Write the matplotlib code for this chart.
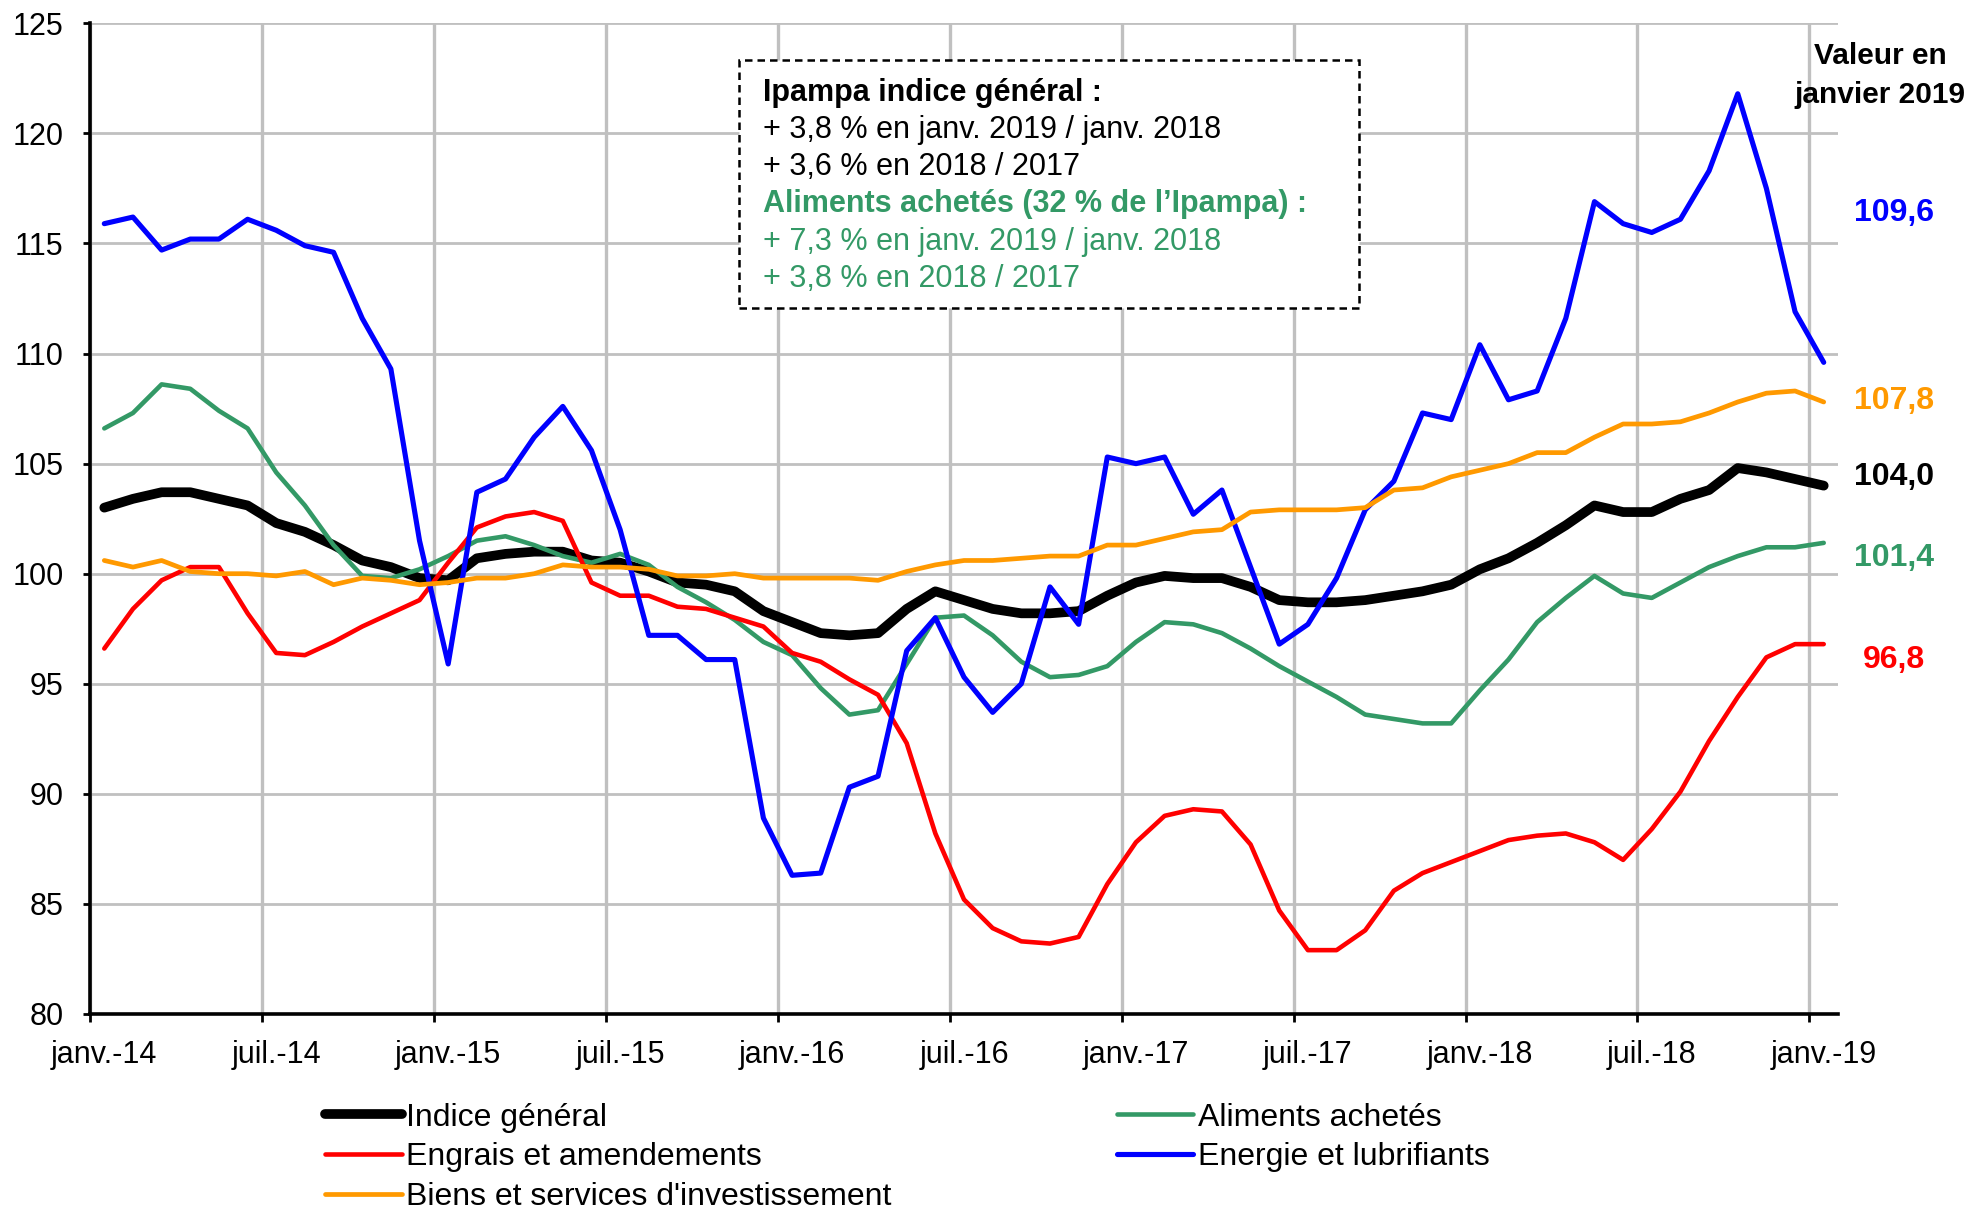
import matplotlib
matplotlib.use("Agg")
import matplotlib.pyplot as plt
from matplotlib.patches import Rectangle

plt.rcParams['font.family'] = ['Liberation Sans', 'DejaVu Sans']

# ---------------- data ----------------
tick_labels = ['janv.-14', 'juil.-14', 'janv.-15', 'juil.-15', 'janv.-16', 'juil.-16',
               'janv.-17', 'juil.-17', 'janv.-18', 'juil.-18', 'janv.-19']

indice_general = [103.0, 103.4, 103.7, 103.7, 103.4, 103.1, 102.3, 101.9, 101.3, 100.6,
                  100.3, 99.8, 99.7, 100.7, 100.9, 101.0, 101.0, 100.6, 100.5, 100.1,
                  99.6, 99.5, 99.2, 98.3, 97.8, 97.3, 97.2, 97.3, 98.4, 99.2,
                  98.8, 98.4, 98.2, 98.2, 98.3, 99.0, 99.6, 99.9, 99.8, 99.8,
                  99.4, 98.8, 98.7, 98.7, 98.8, 99.0, 99.2, 99.5, 100.2, 100.7,
                  101.4, 102.2, 103.1, 102.8, 102.8, 103.4, 103.8, 104.8, 104.6, 104.3,
                  104.0]

aliments = [106.6, 107.3, 108.6, 108.4, 107.4, 106.6, 104.6, 103.1, 101.3, 99.9,
            99.8, 100.2, 100.8, 101.5, 101.7, 101.3, 100.8, 100.5, 100.9, 100.4,
            99.4, 98.7, 97.9, 96.9, 96.3, 94.8, 93.6, 93.8, 95.9, 98.0,
            98.1, 97.2, 96.0, 95.3, 95.4, 95.8, 96.9, 97.8, 97.7, 97.3,
            96.6, 95.8, 95.1, 94.4, 93.6, 93.4, 93.2, 93.2, 94.7, 96.1,
            97.8, 98.9, 99.9, 99.1, 98.9, 99.6, 100.3, 100.8, 101.2, 101.2,
            101.4]

engrais = [96.6, 98.4, 99.7, 100.3, 100.3, 98.2, 96.4, 96.3, 96.9, 97.6,
           98.2, 98.8, 100.5, 102.1, 102.6, 102.8, 102.4, 99.6, 99.0, 99.0,
           98.5, 98.4, 98.0, 97.6, 96.4, 96.0, 95.2, 94.5, 92.3, 88.2,
           85.2, 83.9, 83.3, 83.2, 83.5, 85.9, 87.8, 89.0, 89.3, 89.2,
           87.7, 84.7, 82.9, 82.9, 83.8, 85.6, 86.4, 86.9, 87.4, 87.9,
           88.1, 88.2, 87.8, 87.0, 88.4, 90.1, 92.4, 94.4, 96.2, 96.8,
           96.8]

energie = [115.9, 116.2, 114.7, 115.2, 115.2, 116.1, 115.6, 114.9, 114.6, 111.6,
           109.3, 101.5, 95.9, 103.7, 104.3, 106.2, 107.6, 105.6, 102.0, 97.2,
           97.2, 96.1, 96.1, 88.9, 86.3, 86.4, 90.3, 90.8, 96.5, 98.0,
           95.3, 93.7, 95.0, 99.4, 97.7, 105.3, 105.0, 105.3, 102.7, 103.8,
           100.3, 96.8, 97.7, 99.8, 102.9, 104.2, 107.3, 107.0, 110.4, 107.9,
           108.3, 111.6, 116.9, 115.9, 115.5, 116.1, 118.3, 121.8, 117.5, 111.9,
           109.6]

biens = [100.6, 100.3, 100.6, 100.1, 100.0, 100.0, 99.9, 100.1, 99.5, 99.8,
         99.7, 99.5, 99.6, 99.8, 99.8, 100.0, 100.4, 100.3, 100.3, 100.2,
         99.9, 99.9, 100.0, 99.8, 99.8, 99.8, 99.8, 99.7, 100.1, 100.4,
         100.6, 100.6, 100.7, 100.8, 100.8, 101.3, 101.3, 101.6, 101.9, 102.0,
         102.8, 102.9, 102.9, 102.9, 103.0, 103.8, 103.9, 104.4, 104.7, 105.0,
         105.5, 105.5, 106.2, 106.8, 106.8, 106.9, 107.3, 107.8, 108.2, 108.3,
         107.8]

series_names = ['Indice général', 'Aliments achetés', 'Engrais et amendements',
                'Energie et lubrifiants', "Biens et services d'investissement"]
end_labels = ['104,0', '101,4', '96,8', '109,6', '107,8']

# ---------------- styles ----------------
colors = ['#000000', '#339966', '#FF0000', '#0000FF', '#FF9900']
widths = [7.0, 3.3, 3.3, 3.7, 3.4]
end_label_y = [104.4, 100.7, 96.1, 116.4, 107.85]

fig = plt.figure(figsize=(19.73, 12.09), dpi=100)
ax = fig.add_axes([0.0456, 0.1613, 0.886, 0.8194])

n = len(indice_general)
x = list(range(n))
all_series = [indice_general, aliments, engrais, energie, biens]
handles = []
for vals, c, lw, name in zip(all_series, colors, widths, series_names):
    h, = ax.plot(x, vals, color=c, lw=lw, solid_joinstyle='round',
                 solid_capstyle='round', label=name, zorder=3)
    handles.append(h)

ax.set_xlim(-0.5, n - 0.5)
ax.set_ylim(80, 125)
ax.set_yticks(range(80, 126, 5))

bounds = [i - 0.5 for i in range(0, n, 6)]
centers = list(range(0, n, 6))
ax.set_xticks(bounds)
ax.set_xticklabels([])
ax.set_xticks(centers, minor=True)
ax.set_xticklabels(tick_labels, minor=True)

ax.tick_params(axis='x', which='major', length=6, width=2, direction='out', color='black')
ax.tick_params(axis='x', which='minor', length=0, pad=19, labelsize=22)
ax.tick_params(axis='y', length=5, width=2, direction='out', pad=14, labelsize=22)

ax.set_axisbelow(True)
ax.grid(axis='y', color='#C0C0C0', lw=2)
ax.grid(axis='x', which='major', color='#C0C0C0', lw=2.4)
for s in ['top', 'right']:
    ax.spines[s].set_visible(False)
for s in ['left', 'bottom']:
    ax.spines[s].set_linewidth(2.6)
    ax.spines[s].set_color('black')
    ax.spines[s].set_zorder(4)

# annotation box
ax.add_patch(Rectangle((0.3713, 0.7126), 0.7260 - 0.3713, 0.963 - 0.7126,
                       transform=ax.transAxes, facecolor='white', edgecolor='black',
                       lw=1.8, ls=(0, (3, 2)), zorder=5))
box_lines = [
    ('Ipampa indice général :', 'black', 'bold'),
    ('+ 3,8 % en janv. 2019 / janv. 2018', 'black', 'normal'),
    ('+ 3,6 % en 2018 / 2017', 'black', 'normal'),
    ('Aliments achetés (32 % de l\u2019Ipampa) :', '#339966', 'bold'),
    ('+ 7,3 % en janv. 2019 / janv. 2018', '#339966', 'normal'),
    ('+ 3,8 % en 2018 / 2017', '#339966', 'normal'),
]
y0 = 0.9297
for i, (txt, c, w) in enumerate(box_lines):
    ax.text(0.385, y0 - i * 0.0375, txt, transform=ax.transAxes, color=c,
            fontweight=w, fontsize=22, va='center', ha='left', zorder=6)

# right side labels
ax.text(61.96, 123.5, 'Valeur en', ha='center', va='center', fontsize=21.5,
        fontweight='bold', clip_on=False)
ax.text(61.96, 121.73, 'janvier 2019', ha='center', va='center', fontsize=21.5,
        fontweight='bold', clip_on=False)
for lab, yy, c in zip(end_labels, end_label_y, colors):
    ax.text(62.45, yy, lab, ha='center', va='center', fontsize=23,
            fontweight='bold', color=c, clip_on=False)

# legends
leg_kw = dict(frameon=False, fontsize=23, handlelength=2.4, handletextpad=0.15,
              labelspacing=0.3, borderpad=0, borderaxespad=0, loc='upper left')
leg1 = fig.legend([handles[0], handles[2], handles[4]],
                  [series_names[0], series_names[2], series_names[4]],
                  bbox_to_anchor=(0.1647, 0.088), **leg_kw)
leg2 = fig.legend([handles[1], handles[3]], [series_names[1], series_names[3]],
                  bbox_to_anchor=(0.566, 0.088), **leg_kw)
for leg in (leg1, leg2):
    for ln in leg.get_lines():
        ln.set_solid_capstyle('round')

fig.savefig('out.png', dpi=100)
